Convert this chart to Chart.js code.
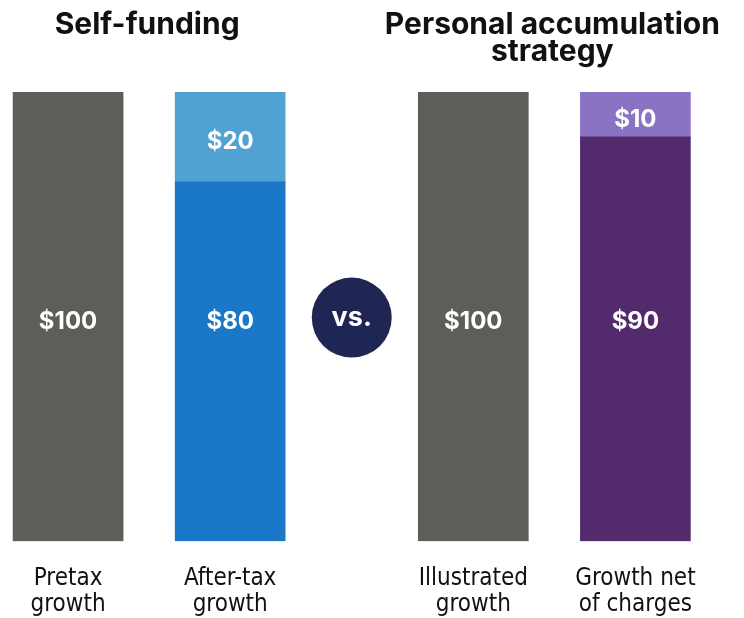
<!DOCTYPE html>
<html>
<head>
<meta charset="utf-8">
<script src="https://cdn.jsdelivr.net/npm/chart.js@4.4.0/dist/chart.umd.min.js"></script>
<style>
  html, body { margin: 0; padding: 0; background: #fff; overflow: hidden; }
  #wrap { width: 744px; height: 642px; position: relative; }
</style>
</head>
<body>
<div id="wrap"><canvas id="chart"></canvas></div>
<script>
// chart data
const groups = ['Self-funding', ['Personal accumulation', 'strategy']];
const categories = [['Pretax', 'growth'], ['After-tax', 'growth'], ['Illustrated', 'growth'], ['Growth net', 'of charges']];
const categoryGroup = [0, 0, 1, 1];
const baseValues = [100, 80, 100, 90];
const topValues = [null, 20, null, 10];

const baseColors = ['#5e5d57', '#1b78c8', '#5e5d57', '#532b6c'];
const topColors = ['#5e5d57', '#50a2d2', '#5e5d57', '#8a73c4'];

// bars within a group sit one unit apart, groups get an extra half unit
const xOf = i => i + 0.5 * categoryGroup[i];
const xs = categories.map((c, i) => xOf(i));

const boldFont = "Inter, 'Liberation Sans', sans-serif";
const narrowFont = "'Liberation Sans Narrow', 'DejaVu Sans Condensed', sans-serif";

// value labels inside bars, group titles and the vs. badge
const overlay = {
    id: 'overlay',
    afterDatasetsDraw(chart) {
        const ctx = chart.ctx;
        const xScale = chart.scales.x;
        const yScale = chart.scales.y;
        ctx.save();
        ctx.fillStyle = '#fff';
        ctx.font = 'bold 24px ' + boldFont;
        ctx.textAlign = 'center';
        ctx.textBaseline = 'middle';
        chart.getDatasetMeta(0).data.forEach((bar, i) => {
            ctx.fillText('$' + baseValues[i], bar.x, yScale.getPixelForValue(50) + 5);
        });
        chart.getDatasetMeta(1).data.forEach((bar, i) => {
            if (topValues[i] == null) return;
            ctx.fillText('$' + topValues[i], bar.x, (bar.y + bar.base) / 2 + 5);
        });

        // group titles
        ctx.fillStyle = '#111';
        ctx.font = 'bold 30px ' + boldFont;
        ctx.textBaseline = 'alphabetic';
        groups.forEach((title, g) => {
            const members = xs.filter((x, i) => categoryGroup[i] === g);
            const cx = (xScale.getPixelForValue(members[0]) + xScale.getPixelForValue(members[members.length - 1])) / 2;
            const lines = Array.isArray(title) ? title : [title];
            lines.forEach((line, k) => ctx.fillText(line, cx - 2, 34 + k * 27));
        });

        // vs. badge between the groups
        const vx = (xScale.getPixelForValue(xs[1]) + xScale.getPixelForValue(xs[2])) / 2;
        const vy = (chart.chartArea.top + chart.chartArea.bottom) / 2 + 1;
        ctx.fillStyle = '#1f2653';
        ctx.beginPath();
        ctx.arc(vx, vy, 40, 0, Math.PI * 2);
        ctx.fill();
        ctx.fillStyle = '#fff';
        ctx.font = 'bold 27px ' + boldFont;
        ctx.textBaseline = 'middle';
        ctx.fillText('vs.', vx, vy);
        ctx.restore();
    }
};

new Chart(document.getElementById('chart'), {
    type: 'bar',
    data: {
        datasets: [
            {
                label: 'Base',
                data: xs.map((x, i) => ({ x: x, y: baseValues[i] })),
                backgroundColor: baseColors,
                barThickness: 110
            },
            {
                label: 'Top',
                data: xs.map((x, i) => ({ x: x, y: topValues[i] })),
                backgroundColor: topColors,
                barThickness: 110
            }
        ]
    },
    options: {
        responsive: true,
        maintainAspectRatio: false,
        animation: false,
        layout: { padding: { top: 92, left: 0, right: 0, bottom: 0 } },
        plugins: { legend: { display: false }, tooltip: { enabled: false } },
        scales: {
            x: {
                type: 'linear',
                stacked: true,
                offset: false,
                min: -0.42,
                max: 4.17,
                border: { display: false },
                grid: { display: false, drawTicks: false },
                afterBuildTicks: axis => { axis.ticks = xs.map(v => ({ value: v })); },
                ticks: {
                    autoSkip: false,
                    maxRotation: 0,
                    padding: 24,
                    color: '#111',
                    font: { family: narrowFont, size: 24, lineHeight: 1.1 },
                    callback: (value, index) => categories[index]
                }
            },
            y: {
                display: false,
                stacked: true,
                min: 0,
                max: 100
            }
        }
    },
    plugins: [overlay]
});
</script>
</body>
</html>
